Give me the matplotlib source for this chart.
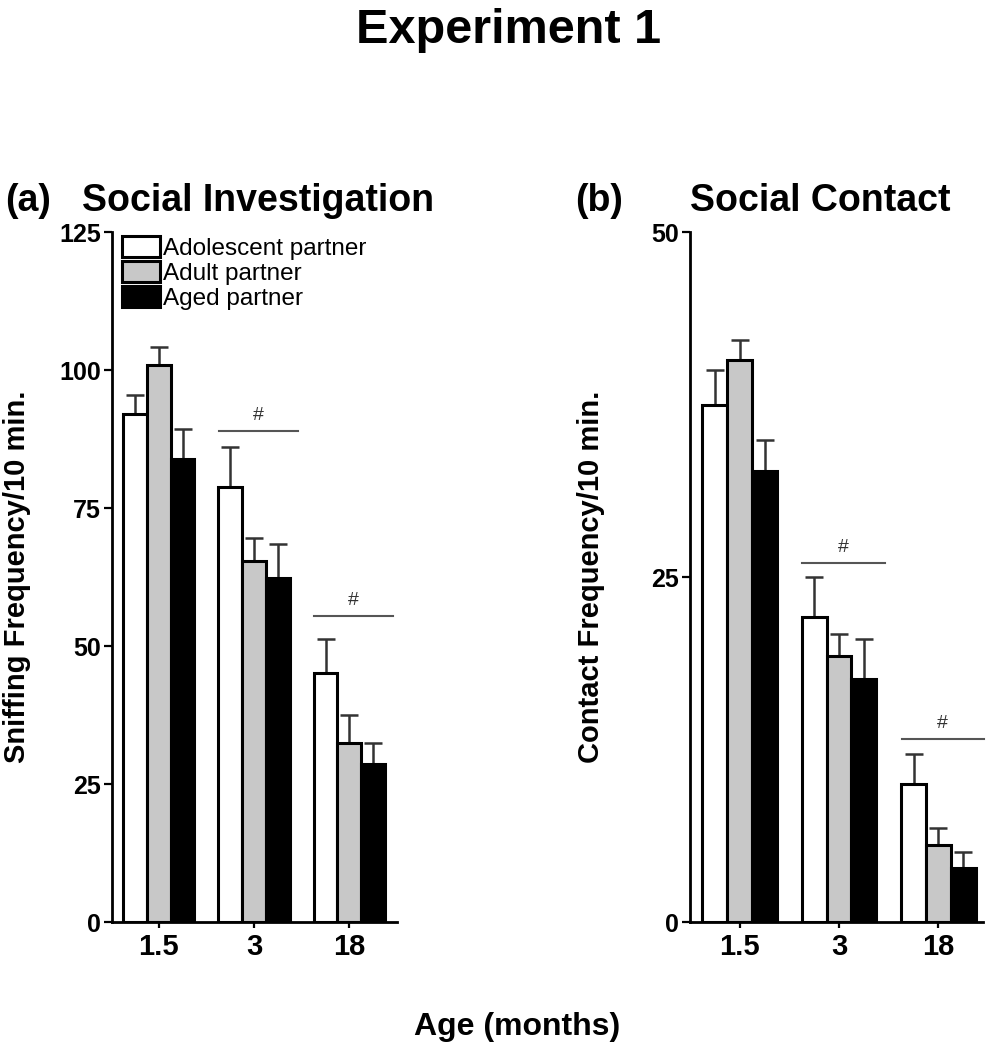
import numpy as np
import matplotlib
matplotlib.use("Agg")
import matplotlib.pyplot as plt

plt.rcParams["font.family"] = ["Liberation Sans", "DejaVu Sans"]

# ---------------- DATA ----------------
AGES = ["1.5", "3", "18"]
PARTNERS = ["Adolescent partner", "Adult partner", "Aged partner"]
FILLS = ["white", "#c8c8c8", "black"]

# (a) sniffing frequency / 10 min, mean and SEM
SNIFF_ADOL = [92.1, 78.8, 45.2]
SNIFF_ADULT = [101.0, 65.4, 32.4]
SNIFF_AGED = [83.9, 62.3, 28.7]
SNIFF_ADOL_SEM = [3.4, 7.2, 6.1]
SNIFF_ADULT_SEM = [3.2, 4.2, 5.1]
SNIFF_AGED_SEM = [5.5, 6.2, 3.7]
SNIFF_SIG_Y = [89.0, 55.5]  # "#" lines over 3 and 18 months

# (b) contact frequency / 10 min, mean and SEM
CONTACT_ADOL = [37.5, 22.1, 10.0]
CONTACT_ADULT = [40.7, 19.3, 5.6]
CONTACT_AGED = [32.7, 17.6, 3.9]
CONTACT_ADOL_SEM = [2.5, 2.9, 2.2]
CONTACT_ADULT_SEM = [1.5, 1.6, 1.2]
CONTACT_AGED_SEM = [2.2, 2.9, 1.2]
CONTACT_SIG_Y = [26.0, 13.3]
# ---------------------------------------


def panel(ax, means, sems, ymax, yticks, sig_y, ylabel, xlim, label_x):
    x = np.arange(len(AGES))
    w = 0.25
    for k in range(3):
        pos = x + (k - 1) * w
        ax.bar(pos, means[k], w, color=FILLS[k], edgecolor="black",
               linewidth=2.2, label=PARTNERS[k], zorder=3)
        ax.errorbar(pos, means[k], yerr=[np.zeros(3), sems[k]], fmt="none",
                    ecolor="#333333", elinewidth=1.8, capsize=6.5, capthick=1.8,
                    zorder=2)

    # significance lines for 3 and 18 months
    for i, y in zip([1, 2], sig_y):
        ax.plot([i - 0.37, i + 0.46], [y, y], color="#555555", lw=1.5,
                clip_on=False, zorder=4)
        ax.annotate("#", (i + 0.045, y), xytext=(0, 5),
                    textcoords="offset points", ha="center", va="bottom",
                    fontsize=14, color="#333333")

    ax.set_xlim(*xlim)
    ax.set_ylim(0, ymax)
    ax.set_yticks(yticks)
    ax.set_xticks(x)
    ax.set_xticklabels(AGES, fontsize=21, fontweight="bold")
    ax.tick_params(axis="y", labelsize=18, width=1.6, length=6, pad=2)
    ax.tick_params(axis="x", width=1.6, length=4, pad=4)
    for t in ax.get_yticklabels():
        t.set_fontweight("bold")
    for s in ["top", "right"]:
        ax.spines[s].set_visible(False)
    for s in ["left", "bottom"]:
        ax.spines[s].set_linewidth(2)
    ax.set_ylabel(ylabel, fontsize=21, fontweight="bold")
    ax.yaxis.set_label_coords(label_x, 0.5)


fig = plt.figure(figsize=(9.9, 10.5), dpi=100)
ax1 = fig.add_axes([0.1131, 0.1219, 0.288, 0.657])
ax2 = fig.add_axes([0.697, 0.1219, 0.296, 0.657])

panel(ax1,
      [SNIFF_ADOL, SNIFF_ADULT, SNIFF_AGED],
      [SNIFF_ADOL_SEM, SNIFF_ADULT_SEM, SNIFF_AGED_SEM],
      125, [0, 25, 50, 75, 100, 125], SNIFF_SIG_Y,
      "Sniffing Frequency/10 min.", (-0.49, 2.5), -0.285)
panel(ax2,
      [CONTACT_ADOL, CONTACT_ADULT, CONTACT_AGED],
      [CONTACT_ADOL_SEM, CONTACT_ADULT_SEM, CONTACT_AGED_SEM],
      50, [0, 25, 50], CONTACT_SIG_Y,
      "Contact Frequency/10 min.", (-0.5, 2.45), -0.29)

leg = ax1.legend(loc="upper left", bbox_to_anchor=(0.035, 0.994), frameon=False,
                 fontsize=17.5, handlelength=1.55, handleheight=0.95,
                 handletextpad=0.15, labelspacing=0.05, borderpad=0,
                 borderaxespad=0)

fig.text(0.514, 0.971, "Experiment 1", ha="center", va="center",
         fontsize=35, fontweight="bold")
fig.text(0.005, 0.809, "(a)", ha="left", va="center", fontsize=27,
         fontweight="bold")
fig.text(0.083, 0.809, "Social Investigation", ha="left", va="center",
         fontsize=27, fontweight="bold")
fig.text(0.581, 0.809, "(b)", ha="left", va="center", fontsize=27,
         fontweight="bold")
fig.text(0.697, 0.809, "Social Contact", ha="left", va="center",
         fontsize=27, fontweight="bold")
fig.text(0.522, 0.022, "Age (months)", ha="center", va="center",
         fontsize=23, fontweight="bold")

fig.savefig("out.png", dpi=100)
